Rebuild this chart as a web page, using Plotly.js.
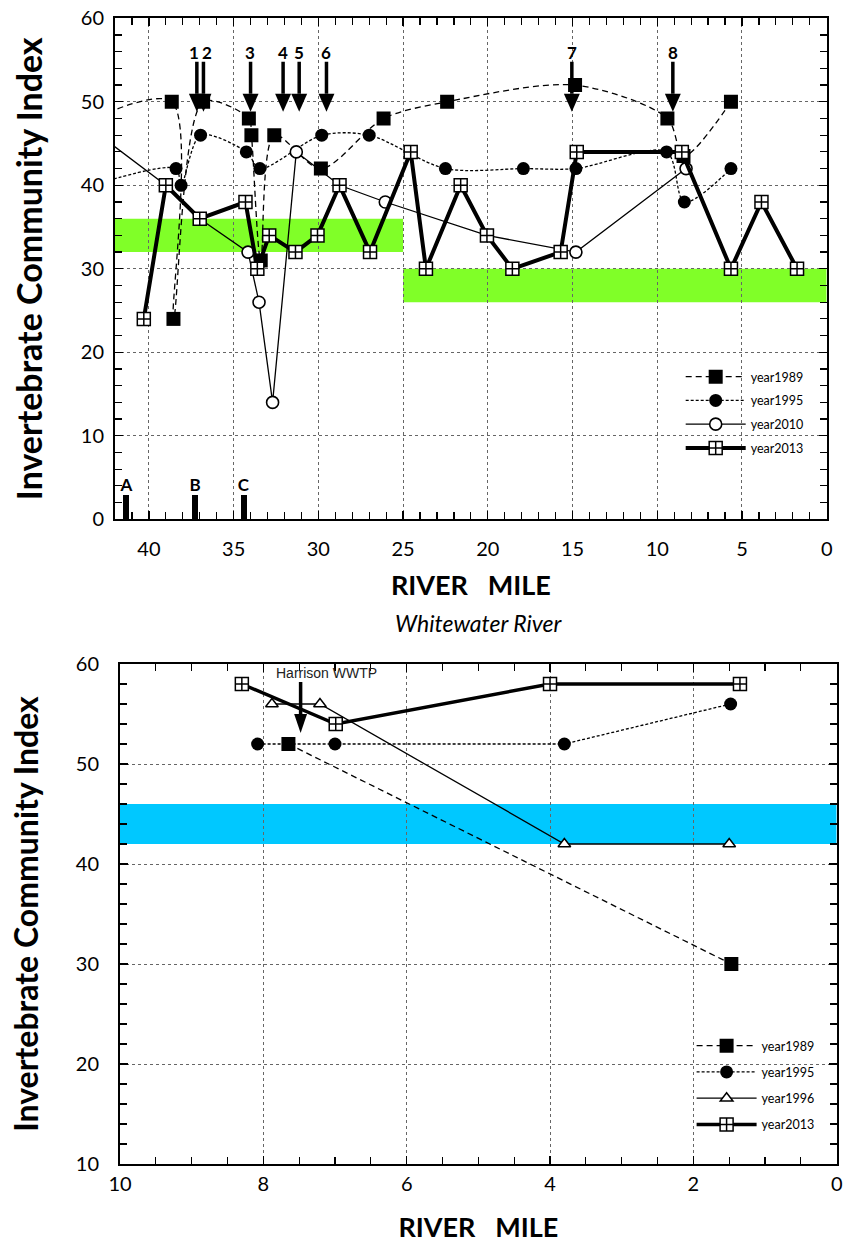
<!DOCTYPE html>
<html><head><meta charset="utf-8">
<script src="https://cdn.plot.ly/plotly-3.0.1.min.js"></script>
<style>html,body{margin:0;padding:0;background:#fff}</style>
</head><body><div id="chart" style="width:845px;height:1247px"></div>
<script>
// ---------- Upper chart: invertebrate community index vs river mile ----------
// (first point of three series lies upstream of the plotted range, so only its line shows)
const top1989Mile = [43.5, 38.65, 38.55, 36.8, 34.1, 33.95, 33.4, 32.6, 29.85, 26.15, 22.4, 14.85, 9.4, 8.45, 5.65];
const top1989ICI  = [47.8, 50, 24, 50, 48, 46, 31, 46, 42, 48, 50, 52, 48, 43.5, 50];
const top1995Mile = [43.5, 38.4, 38.1, 36.95, 34.25, 33.45, 29.8, 27.0, 22.5, 17.9, 14.8, 9.45, 8.4, 5.65];
const top1995ICI  = [39.9, 42, 40, 46, 44, 42, 46, 46, 42, 42, 42, 44, 38, 42];
const top2010Mile = [43.5, 39.0, 37.0, 34.15, 33.5, 32.7, 31.3, 28.75, 26.05, 20.05, 14.8, 8.3];
const top2010ICI  = [46.9, 40, 36, 32, 26, 14, 44, 40, 38, 34, 32, 42];
const top2013Mile = [40.3, 39.0, 37.0, 34.3, 33.6, 32.9, 31.35, 30.05, 28.75, 26.95, 24.55, 23.65, 21.6, 20.05, 18.55, 15.7, 14.75, 8.55, 5.65, 3.85, 1.75];
const top2013ICI  = [24, 40, 36, 38, 30, 34, 32, 34, 40, 32, 44, 30, 40, 34, 30, 32, 44, 44, 30, 38, 30];
// criteria bands (river mile from/to, ICI low/high)
const topBandFrom = [42, 25];
const topBandTo   = [25, 0];
const topBandLow  = [32, 26];
const topBandHigh = [36, 30];
// numbered arrows (discharges) and lettered bars
const arrowMile      = [37.17, 36.78, 34.0, 32.08, 31.13, 29.52, 15.04, 9.08];
const arrowLabelMile = [37.35, 36.56, 34.04, 32.08, 31.15, 29.52, 15.04, 9.08];
const arrowLabels    = ['1', '2', '3', '4', '5', '6', '7', '8'];
const arrowTipICI = 48.8, arrowTailICI = 54.8, arrowLabelICI = 55.9;
const siteMile   = [41.35, 37.27, 34.4];
const siteHeight = [2.9, 2.9, 2.9];
const siteLabels = ['A', 'B', 'C'];

// ---------- Lower chart: Whitewater River ----------
const bot1989Mile = [7.65, 1.47];
const bot1989ICI  = [52, 30];
const bot1995Mile = [8.08, 7.0, 3.8, 1.48];
const bot1995ICI  = [52, 52, 52, 56];
const bot1996Mile = [7.88, 7.21, 3.8, 1.5];
const bot1996ICI  = [56, 56, 42, 42];
const bot2013Mile = [8.3, 6.99, 4.0, 1.35];
const bot2013ICI  = [58, 54, 58, 58];
const botBandFrom = [10], botBandTo = [0], botBandLow = [42], botBandHigh = [46];
const wwtpMile = 7.48, wwtpTipICI = 53.1, wwtpTailICI = 58.2, wwtpLabelMile = 7.12, wwtpLabelICI = 59.1;
const wwtpLabel = 'Harrison WWTP';

const LATO = 'Lato, "Open Sans", sans-serif';
const legFont = {family: LATO, size: 12.5, color: '#000'};

function trace(x, y, name, xa, ya, leg, mode, line, marker, group) {
  return {x: x, y: y, name: name, type: 'scatter', mode: mode, xaxis: xa, yaxis: ya,
          legend: leg, legendgroup: group, line: line, marker: marker, hoverinfo: 'x+y', cliponaxis: true};
}
const mSq  = {symbol: 'square', size: 14, color: '#000', line: {width: 0}};
const mDot = {symbol: 'circle', size: 13, color: '#000', line: {width: 0}};
const mOpen = {symbol: 'circle', size: 12, color: '#fff', line: {width: 1.6, color: '#000'}};
const mTri = {symbol: 'triangle-up', size: 11, color: '#fff', line: {width: 1.5, color: '#000'}};
const mGrid = {symbol: 'square-cross', size: 13, color: '#fff', line: {width: 1.5, color: '#000'}};

const data = [
  {type: 'bar', x: siteMile, y: siteHeight, width: 0.33, xaxis: 'x', yaxis: 'y', showlegend: false,
   marker: {color: '#000'}, text: siteLabels, textposition: 'outside', constraintext: 'none', cliponaxis: false,
   textfont: {family: LATO, size: 17, color: '#000', weight: 'bold'}, hoverinfo: 'x'},
  trace(top1989Mile, top1989ICI, 'year1989', 'x', 'y', 'legend', 'lines+markers', {color: '#000', width: 1.3, dash: '6px,4px', shape: 'spline', smoothing: 0.85}, mSq, 'a'),
  trace(top1995Mile, top1995ICI, 'year1995', 'x', 'y', 'legend', 'lines+markers', {color: '#000', width: 1.3, dash: '3px,2px', shape: 'spline', smoothing: 0.85}, mDot, 'b'),
  trace(top2010Mile, top2010ICI, 'year2010', 'x', 'y', 'legend', 'lines+markers', {color: '#000', width: 1.3}, mOpen, 'c'),
  trace(top2013Mile, top2013ICI, 'year2013', 'x', 'y', 'legend', 'lines+markers', {color: '#000', width: 4}, mGrid, 'd'),
  trace(bot1989Mile, bot1989ICI, 'year1989', 'x2', 'y2', 'legend2', 'lines+markers', {color: '#000', width: 1.3, dash: '6px,4px'}, mSq, 'e'),
  trace(bot1995Mile, bot1995ICI, 'year1995', 'x2', 'y2', 'legend2', 'lines+markers', {color: '#000', width: 1.3, dash: '3px,2px'}, mDot, 'f'),
  trace(bot1996Mile, bot1996ICI, 'year1996', 'x2', 'y2', 'legend2', 'lines+markers', {color: '#000', width: 1.3}, mTri, 'g'),
  trace(bot2013Mile, bot2013ICI, 'year2013', 'x2', 'y2', 'legend2', 'lines+markers', {color: '#000', width: 3.5}, mGrid, 'h')
];

const shapes = [];
topBandFrom.forEach((f, i) => shapes.push({type: 'rect', xref: 'x', yref: 'y', x0: f, x1: topBandTo[i], y0: topBandLow[i], y1: topBandHigh[i], fillcolor: '#80FF28', line: {width: 0}, layer: 'below'}));
botBandFrom.forEach((f, i) => shapes.push({type: 'rect', xref: 'x2', yref: 'y2', x0: f, x1: botBandTo[i], y0: botBandLow[i], y1: botBandHigh[i], fillcolor: '#00C8FF', line: {width: 0}, layer: 'below'}));

// arrows: shaft + filled head, in axis units
const headLenTop = 2.15, headHalfTop = 0.47;
arrowMile.forEach(m => {
  shapes.push({type: 'line', xref: 'x', yref: 'y', x0: m, x1: m, y0: arrowTailICI, y1: arrowTipICI + headLenTop, line: {color: '#000', width: 3.5}});
  shapes.push({type: 'path', xref: 'x', yref: 'y', path: `M${m - headHalfTop},${arrowTipICI + headLenTop} L${m + headHalfTop},${arrowTipICI + headLenTop} L${m},${arrowTipICI} Z`, fillcolor: '#000', line: {width: 0}});
});
const headLenBot = 1.9, headHalfBot = 0.09;
shapes.push({type: 'line', xref: 'x2', yref: 'y2', x0: wwtpMile, x1: wwtpMile, y0: wwtpTailICI, y1: wwtpTipICI + headLenBot, line: {color: '#000', width: 3.5}});
shapes.push({type: 'path', xref: 'x2', yref: 'y2', path: `M${wwtpMile - headHalfBot},${wwtpTipICI + headLenBot} L${wwtpMile + headHalfBot},${wwtpTipICI + headLenBot} L${wwtpMile},${wwtpTipICI} Z`, fillcolor: '#000', line: {width: 0}});

const annotations = arrowLabels.map((t, i) => ({xref: 'x', yref: 'y', x: arrowLabelMile[i], y: arrowLabelICI, text: t, showarrow: false,
  font: {family: LATO, size: 17, color: '#000', weight: 'bold'}, xanchor: 'center', yanchor: 'middle'}));
annotations.push({xref: 'x2', yref: 'y2', x: wwtpLabelMile, y: wwtpLabelICI, text: wwtpLabel, showarrow: false,
  font: {family: 'Liberation Sans, Arial, sans-serif', size: 14, color: '#222'}, xanchor: 'center', yanchor: 'middle'});

function xax(domain, range, dtick, minor, anchor, standoff) {
  return {domain: domain, range: range, anchor: anchor, dtick: dtick, tick0: 0, ticks: 'inside', ticklen: 8, tickwidth: 1.3,
    tickcolor: '#000', mirror: 'ticks', showline: true, linewidth: 2, linecolor: '#000', showgrid: true, gridcolor: '#666',
    gridwidth: 1, griddash: '3px,3px', zeroline: false, tickfont: {family: LATO, size: 20, color: '#000'},
    ticklabelstandoff: standoff, minor: {dtick: minor, ticks: 'inside', ticklen: 7, tickwidth: 1.2, tickcolor: '#000', showgrid: false},
    fixedrange: true};
}
const axTitleFont = {family: LATO, size: 27, color: '#000', weight: 'bold'};
const riverMile = 'RIVER\u00A0\u00A0\u00A0MILE';
const ici = 'Invertebrate Community Index';

const xaxis = xax([0.006878, 0.98583], [42, 0], 5, 1, 'y', 11);
xaxis.title = {text: riverMile, font: axTitleFont, standoff: 17};
const yaxis = xax([0.56729, 0.99295], [0, 60], 10, 2, 'x', 5);
yaxis.title = {text: ici, font: {family: LATO, size: 34, color: '#000', weight: 'bold'}, standoff: 28};
const xaxis2 = xax([0.013755, 0.99959], [10, 0], 2, 0.5, 'y2', 1);
xaxis2.title = {text: riverMile, font: axTitleFont, standoff: 24};
const yaxis2 = xax([0.019541, 0.44435], [10, 60], 10, 2, 'x2', 15);
yaxis2.title = {text: ici, font: {family: LATO, size: 32, color: '#000', weight: 'bold'}, standoff: 28};

const layout = {
  width: 845, height: 1247, margin: {l: 110, r: 8, t: 10, b: 60},
  paper_bgcolor: '#fff', plot_bgcolor: 'rgba(0,0,0,0)', showlegend: true,
  title: {text: 'Whitewater River', font: {family: LATO, size: 23, style: 'italic', color: '#000'},
          xref: 'container', yref: 'container', x: 0.566, y: 0.4996, xanchor: 'center', yanchor: 'middle'},
  xaxis: xaxis, yaxis: yaxis, xaxis2: xaxis2, yaxis2: yaxis2,
  legend: {x: 0.785, y: 0.7009, xanchor: 'left', yanchor: 'top', bgcolor: 'rgba(0,0,0,0)', font: legFont,
           itemwidth: 60, traceorder: 'grouped', tracegroupgap: 4.5},
  legend2: {x: 0.80, y: 0.1325, xanchor: 'left', yanchor: 'top', bgcolor: 'rgba(0,0,0,0)', font: legFont,
            itemwidth: 60, traceorder: 'grouped', tracegroupgap: 7},
  shapes: shapes, annotations: annotations, bargap: 0
};
Plotly.newPlot('chart', data, layout, {displayModeBar: false, staticPlot: true});
</script></body></html>
